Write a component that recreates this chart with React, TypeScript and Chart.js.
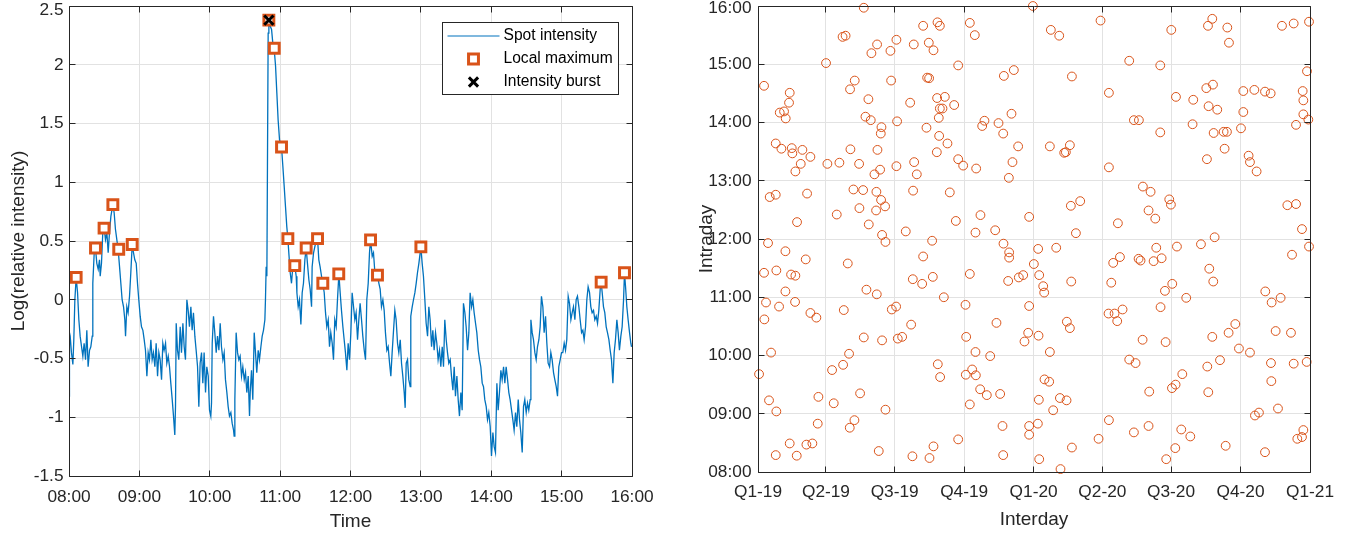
import React, { useEffect, useRef } from 'react';
import { Chart, registerables } from 'chart.js';

Chart.register(...registerables);

const FONT = "'Liberation Sans', Arial, Helvetica, sans-serif";
const AXIS = '#262626';
const GRID = '#e2e2e2';
const BLUE = '#0072BD';
const ORANGE = '#D95319';

const spotTime = [
  0, 0.4, 1.0, 2.1, 3.3, 4.1, 5.0, 6.1, 7.3, 8.4, 9.5, 10.7, 11.8, 12.9, 14.1, 15.2, 16.3, 17.5, 18.6, 19.8,
  20.3, 21.5, 22.6, 23.7, 24.9, 26.0, 26.6, 27.7, 28.8, 30.0, 31.1, 32.3, 33.4, 34.5, 35.7, 37.4, 38.5, 39.6, 40.8, 41.9,
  43.1, 44.2, 45.3, 46.5, 47.6, 48.2, 49.3, 50.4, 51.6, 52.7, 53.9, 55.0, 56.1, 57.3, 58.4, 59.5, 60.7, 61.8, 63.0, 64.1,
  65.2, 66.4, 67.5, 68.6, 69.8, 70.9, 72.0, 73.2, 74.3, 75.5, 76.6, 77.7, 78.9, 80.0, 81.1, 82.3, 83.4, 84.6, 85.7, 86.8,
  88.0, 89.1, 90.2, 90.8, 91.4, 92.5, 93.6, 94.8, 95.9, 97.1, 98.2, 99.3, 100.5, 101.6, 102.7, 103.9, 105.0, 106.1, 107.3, 108.4,
  109.6, 110.7, 111.8, 113.0, 114.1, 115.2, 116.4, 117.5, 118.7, 119.8, 120.9, 121.5,
  122.1, 123.2, 124.3, 125.5, 126.6, 127.8, 128.9, 130.0, 131.2, 132.3, 133.4, 134.6, 135.7, 136.8, 138.0, 139.1, 140.3, 140.8,
  141.4, 142.5, 143.7, 144.8, 145.9, 147.1, 148.2, 149.4, 150.5, 151.6, 152.8, 153.9, 154.5, 155.6, 156.7, 157.9, 159.0, 160.1,
  161.3, 162.4, 163.6, 164.7, 165.8, 167.0, 167.5, 168.1, 168.7, 169.2, 169.8, 170.4, 171.5, 172.7, 173.8, 174.9, 176.1, 177.2,
  178.3, 179.5, 181.2, 182.3, 183.5, 184.6, 185.7, 186.6, 187.4, 188.6, 189.7, 190.8, 192.0, 192.5, 193.7, 194.3, 195.4, 196.5,
  197.7, 198.8, 199.9, 201.1, 202.2, 203.3, 204.5, 205.6, 206.8, 207.3, 208.5, 210.2, 211.9, 213.0, 214.1, 215.3, 216.4, 217.6,
  218.7, 219.8, 221.0, 222.1, 223.2, 224.4, 225.5, 226.6, 227.8, 228.9, 230.1, 231.2, 232.3, 233.5, 234.6, 235.7, 236.9, 238.0,
  239.2, 240.3,
  241.4, 242.6, 243.7, 244.8, 246.0, 247.1, 248.2, 249.4, 250.5, 251.7, 252.8, 253.9, 255.1, 256.2, 257.1, 258.5, 259.6, 260.8,
  261.9, 263.0, 264.2, 265.3, 266.4, 267.6, 268.7, 269.8, 271.0, 272.1, 273.3, 274.4, 275.5, 276.7, 277.8, 278.9, 280.1, 281.2,
  282.4, 283.5, 284.6, 285.8, 286.6, 287.5, 288.6, 289.7, 290.9, 291.4, 292.6, 293.7, 294.9, 296.0, 297.1, 298.3, 300.0, 301.1,
  302.2, 303.4, 304.5, 305.7, 306.8, 307.9, 309.1, 310.2, 311.3, 312.5, 313.6, 314.7, 315.9, 317.0, 318.2, 319.3, 320.4, 321.6,
  322.7, 323.8, 325.0, 326.1, 327.3, 328.4, 329.5, 330.7, 331.8, 332.9, 334.1, 335.2, 336.3, 337.5, 338.6, 339.8, 340.9, 342.0,
  343.2, 344.3, 345.4, 346.6, 347.7, 348.9, 350.0, 351.1, 352.3, 353.4, 354.5, 355.7, 356.8, 357.9, 359.1, 360.2,
  361.4, 362.5, 363.6, 364.8, 365.9, 367.0, 368.2, 369.3, 370.5, 371.6, 372.7, 373.9, 375.0, 376.1, 377.3, 378.4, 379.5, 380.7,
  381.8, 383.0, 384.1, 385.2, 386.4, 387.5, 388.6, 389.8, 390.9, 392.0, 393.2, 393.8, 394.9, 396.0, 397.2, 398.3, 399.4, 400.6,
  401.7, 402.8, 404.0, 405.1, 406.3, 407.4, 408.5, 409.7, 410.8, 411.9, 413.1, 414.2, 415.4, 416.5, 417.6, 418.8, 419.9, 421.0,
  422.2, 423.3, 424.4, 425.6, 426.7, 427.9, 429.0, 430.1, 431.3, 432.4, 433.5, 434.7, 435.8, 437.0, 438.1, 439.2, 440.4, 441.5,
  442.6, 443.8, 444.9, 446.0, 447.2, 448.3, 449.5, 450.6, 451.7, 452.9, 453.7, 454.6, 455.7, 456.8, 458.0, 459.1, 460.3, 461.4,
  462.5, 463.7, 464.8, 465.9, 467.1, 468.2, 469.3, 470.5, 471.6, 472.8, 473.6, 474.5, 475.6, 476.7, 477.9, 479.0, 479.6,
];
const spotValue = [
  -0.82, -0.28, -0.31, -0.45, -0.55, -0.34, 0.0, 0.19, 0.06, -0.17, -0.31, -0.4, -0.48, -0.37, -0.51, -0.26, -0.57, -0.43, -0.4, -0.31,
  0.14, 0.4, 0.44, 0.31, 0.26, 0.34, 0.2, 0.31, 0.57, 0.61, 0.51, 0.57, 0.4, 0.57, 0.71, 0.81, 0.74, 0.6, 0.51, 0.43,
  0.28, 0.14, 0.0, -0.06, -0.17, -0.31, -0.06, -0.11, 0.03, 0.23, 0.47, 0.4, 0.34, 0.31, 0.14, 0.0, -0.14, -0.23, -0.26, -0.34,
  -0.43, -0.65, -0.45, -0.51, -0.34, -0.51, -0.45, -0.57, -0.37, -0.65, -0.45, -0.51, -0.68, -0.37, -0.43, -0.37, -0.54, -0.48, -0.57, -0.71,
  -0.85, -0.99, -1.15, -0.91, -0.2, -0.43, -0.51, -0.23, -0.45, -0.2, -0.4, -0.51, 0.0, -0.09, -0.23, -0.06, -0.26, -0.11, -0.31, -0.43,
  -0.57, -0.91, -0.54, -0.45, -0.71, -0.45, -0.79, -0.57, -0.65, -0.94, -0.99, -0.88,
  -0.37, -0.14, -0.28, -0.45, -0.31, -0.43, -0.2, -0.4, -0.51, -0.45, -0.68, -0.79, -0.91, -0.99, -0.96, -1.05, -1.11, -1.16,
  -0.85, -0.28, -0.45, -0.51, -0.48, -0.65, -0.57, -0.68, -0.62, -0.79, -0.65, -0.99, -0.79, -0.6, -0.85, -0.28, -0.45, -0.62,
  -0.43, -0.51, -0.4, -0.31, -0.26, -0.17, 0.0, 0.28, 0.2, 1.14, 2.27, 2.38, 2.33, 2.3, 2.18, 2.14, 1.99, 1.76,
  1.53, 1.36, 1.3, 1.14, 0.96, 0.79, 0.62, 0.52, 0.4, 0.23, 0.14, 0.28, 0.26, 0.29, 0.2, 0.06, -0.06, 0.0,
  -0.21, 0.06, 0.14, 0.34, 0.44, 0.31, 0.17, 0.09, -0.06, 0.28, 0.4, 0.48, 0.52, 0.34, 0.28, 0.2, 0.14, 0.06,
  -0.11, -0.23, -0.17, -0.4, -0.28, -0.37, -0.51, -0.17, -0.23, 0.0, 0.22, 0.06, -0.09, -0.23, -0.34, -0.45, -0.6, -0.37,
  -0.51, -0.28,
  0.06, -0.06, -0.17, -0.11, -0.34, -0.17, -0.03, -0.17, -0.31, -0.43, -0.51, 0.0, 0.14, 0.4, 0.51, 0.37, 0.4, 0.23,
  0.2, 0.21, 0.14, 0.09, -0.06, 0.0, -0.09, -0.28, -0.43, -0.4, -0.54, -0.65, -0.45, -0.26, -0.09, -0.17, -0.37, -0.45,
  -0.34, -0.54, -0.65, -0.79, -0.92, -0.54, -0.51, -0.68, -0.74, -0.14, -0.06, 0.0, 0.06, 0.14, 0.23, 0.31, 0.45, 0.31,
  0.2, 0.0, -0.2, -0.31, -0.06, -0.17, -0.4, -0.26, -0.43, -0.28, -0.37, -0.51, -0.43, -0.57, -0.4, -0.57, -0.17, -0.34,
  -0.45, -0.54, -0.51, -0.65, -0.77, -0.57, -0.82, -0.65, -0.85, -0.99, -0.79, -0.94, -0.03, -0.11, -0.23, -0.43, -0.28, 0.06,
  -0.06, 0.0, -0.11, -0.2, -0.28, -0.43, -0.51, -0.57, -0.71, -0.74, -0.85, -0.91, -1.02, -0.96, -1.08, -1.33,
  -1.13, -1.25, -1.3, -0.71, -0.94, -0.79, -0.6, -0.68, -0.57, -0.71, -0.57, -0.68, -0.79, -0.85, -0.94, -1.02, -1.11, -0.96,
  -1.08, -0.85, -1.02, -1.13, -1.3, -0.91, -0.85, -0.96, -0.88, -0.94, -0.85, -0.17, -0.28, -0.34, -0.45, -0.51, -0.4, -0.34,
  -0.23, 0.03, -0.06, -0.28, -0.14, -0.37, -0.54, -0.57, -0.45, -0.51, -0.62, -0.68, -0.74, -0.82, -0.57, -0.51, -0.45, -0.45,
  -0.37, -0.43, -0.34, 0.03, -0.03, -0.17, -0.11, -0.06, -0.17, 0.0, 0.03, -0.06, -0.17, -0.28, -0.26, -0.34, -0.23, 0.0,
  0.11, 0.06, -0.06, -0.11, -0.09, -0.17, -0.14, -0.2, -0.09, 0.09, 0.15, 0.06, -0.06, -0.11, -0.23, -0.28, -0.34, -0.43,
  -0.51, -0.71, -0.45, -0.34, -0.17, -0.28, -0.43, -0.31, -0.23, 0.0, 0.23, 0.11, -0.06, -0.17, -0.28, -0.37, -0.4,
];

const maxTime = [6.1, 22.6, 29.9, 37.4, 42.4, 53.9, 170.4, 175.0, 181.2, 186.6, 192.5, 202.2, 211.9, 216.4, 230.0, 257.1, 263.0, 300.0, 453.7, 473.6];
const maxValue = [0.19, 0.44, 0.61, 0.81, 0.43, 0.47, 2.38, 2.14, 1.3, 0.52, 0.29, 0.44, 0.52, 0.14, 0.22, 0.51, 0.21, 0.45, 0.15, 0.23];
const burstTime = [170.4];
const burstValue = [2.38];

const timeTicks = [0, 60, 120, 180, 240, 300, 360, 420, 480];
const timeTickLabels = ['08:00', '09:00', '10:00', '11:00', '12:00', '13:00', '14:00', '15:00', '16:00'];
const logTicks = [-1.5, -1, -0.5, 0, 0.5, 1, 1.5, 2, 2.5];
const logTickLabels = ['-1.5', '-1', '-0.5', '0', '0.5', '1', '1.5', '2', '2.5'];

const interday = [
  8.0, 15.5, 23.5, 13.3, 23.5, 31.0, 28.8, 34.5, 36.7, 42.0, 41.1, 44.7, 45.5, 58.8, 69.4, 56.6, 49.5, 65.0, 51.7, 36.3,
  63.2, 90.1, 91.9, 104.3, 107.8, 112, 116, 121.9, 128.1, 122.4, 133.9, 126.4, 139.2, 134.3, 146.7, 118.9, 140.1, 150.2, 157.7, 146.2,
  142.3, 149.3, 163.5, 162.6, 158.2, 161.7, 154.2, 156.8, 163.0, 168.3, 156.4, 164.3, 168.8, 175.4, 183.3, 176.3, 184.2, 183.3, 195.7, 206.3,
  218.7, 226.2, 232.4, 237.7, 240.8, 201.5, 224.0, 226.6, 223.1, 237.2, 239.4, 240.8, 244.3, 247.4, 259.8, 239.9, 250.9, 236.8, 206.8, 210.3,
  205.4, 254.0, 265.1, 271.7, 262.0, 230.6, 218.7, 265.1, 280.5, 287.1, 288.9, 296.9, 299.9, 294.6, 288.0, 314.1, 318.5, 325.6, 324.7, 332.2,
  325.1, 332.6, 332.6,
  364.0, 387.8, 398.9, 453.6, 547.3, 595.9, 601.6, 621.5, 623.7, 693.9, 709.4, 729.7, 338.8, 415.7, 491.6, 532.7, 464.7, 553.5, 576.4, 593.7,
  602.5, 596.7, 608.2, 642.7, 657.3, 671.4, 678.9, 727.0, 721.3, 722.2, 722.2, 728.8, 712.5, 642.7, 639.6, 575.5, 532.7, 497.8, 504.4, 603.4,
  616.6, 621.0, 617.9, 594.5, 649.7, 651.5, 660.3, 335.7, 344.5, 337.0, 386.5, 405.5, 407.7, 413.0, 464.7, 509.7, 519.9, 544.6, 546.8, 517.2,
  526.1, 359.1, 414.3, 426.7, 421.0, 476.6, 701.0, 712.5, 720.4, 729.7, 707.2, 604.7, 586.6, 554.8, 527.4, 534.5, 523.9, 504.0, 506.6, 479.3,
  470.4, 394.9, 371.0, 365.3, 597.6,
  8.0, 24.3, 43.8, 49.5, 36.3, 10.6, 27.9, 49.1, 8.4, 69.4, 77.3, 17.3, 1.4, 14.6, 24.3, 23.5, 42.0, 51.3, 64.1, 72.0,
  80.0, 79.1, 98.1, 112.7, 120.6, 100.3, 113.6, 143.6, 157.3, 140.1, 164.3, 135.2, 127.7, 121.5, 168.8, 159.9, 177.2, 182.9, 185.1, 190.9,
  202.8, 205.0, 217.4, 231.5, 246.1, 238.1, 241.2, 204.5, 227.1, 232.4, 265.1, 274.8, 280.5, 275.7, 288.0, 275.2, 283.6, 288.5, 294.2, 303.0,
  307.5, 280.5, 315.8, 320.7, 331.3, 345.4, 351.2, 323.8, 324.7,
  372.4, 377.7, 379.0, 414.8, 359.1, 357.8, 352.9, 371.5, 386.5, 409.0, 413.0, 379.4, 385.6, 371.9, 399.8, 408.6, 390.9, 359.1, 359.1, 370.6,
  372.4, 400.6, 415.7, 467.8, 464.2, 472.2, 475.7, 482.8, 509.3, 491.6, 500.0, 518.1, 464.7, 451.0, 497.8, 517.2, 533.1, 538.9, 548.6, 567.1,
  539.8, 548.2, 553.0, 561.9, 540.6, 552.6, 560.5, 572.5, 602.9, 601.6, 623.2, 632.1, 595.0, 611.8, 596.3, 619.3, 636.9, 651.5, 671.8, 680.2,
  692.1, 685.5, 705.8, 679.3, 709.4, 726.6, 679.8, 658.1, 663.4, 688.6, 671.4, 722.2, 714.2, 720.4,
];
const intraday = [
  14.63, 12.72, 12.76, 11.93, 13.64, 13.55, 14.17, 14.19, 14.07, 14.51, 14.34, 13.56, 13.47, 13.53, 13.41, 13.29, 13.16, 12.78, 12.29, 11.79,
  11.65, 15.02, 13.29, 12.42, 13.31, 15.47, 15.49, 14.57, 14.72, 13.54, 13.29, 12.85, 12.84, 12.53, 12.25, 11.58, 15.97, 15.19, 15.34, 14.4,
  14.1, 14.04, 13.92, 13.81, 13.53, 13.19, 13.11, 12.81, 12.67, 12.56, 12.49, 12.07, 11.95, 15.23, 15.42, 14.72, 14.02, 13.25, 12.13, 15.34,
  15.66, 15.37, 15.24, 15.72, 15.66, 14.34, 14.77, 14.76, 13.91, 14.42, 14.08, 14.24, 14.24, 14.44, 14.3, 13.77, 13.64, 13.49, 13.32, 13.11,
  12.83, 12.8, 13.37, 13.26, 12.31, 11.97, 11.7, 14.98, 15.71, 15.5, 13.21, 13.94, 14.03, 12.41, 12.11, 12.15, 13.99, 14.8, 13.81, 13.05,
  11.92, 11.77, 11.68,
  16.0, 15.59, 15.49, 15.75, 15.59, 15.66, 15.78, 15.63, 15.37, 15.66, 15.7, 15.73, 14.9, 14.79, 15.06, 14.98, 14.51, 14.44, 14.39, 14.59,
  14.65, 14.28, 14.22, 14.54, 14.56, 14.53, 14.5, 14.88, 14.54, 14.38, 14.14, 14.05, 13.96, 14.18, 13.9, 13.97, 13.83, 14.04, 14.04, 13.82,
  13.84, 13.84, 13.55, 13.37, 13.43, 13.32, 13.16, 14.15, 13.59, 13.32, 13.59, 13.48, 13.49, 13.61, 13.23, 12.9, 12.81, 12.68, 12.59, 12.49,
  12.35, 12.38, 12.57, 12.65, 12.1, 12.27, 12.58, 12.6, 12.17, 11.87, 11.73, 12.03, 11.91, 11.87, 11.85, 11.67, 11.62, 11.66, 11.63, 11.69,
  11.59, 11.85, 11.83, 11.57, 11.49,
  11.42, 11.46, 11.39, 11.37, 11.1, 10.91, 10.84, 10.92, 10.62, 10.73, 10.65, 10.05, 9.68, 9.23, 9.04, 8.29, 8.49, 8.28, 8.47, 8.49,
  9.29, 8.83, 9.75, 9.84, 10.03, 9.18, 10.78, 11.13, 11.05, 10.31, 10.26, 9.35, 8.89, 8.76, 9.07, 8.36, 10.79, 10.84, 10.29, 10.32,
  10.53, 11.31, 11.23, 11.35, 11.0, 9.85, 9.63, 8.27, 8.24, 8.44, 8.56, 10.87, 11.4, 10.32, 10.06, 9.67, 9.76, 9.66, 9.42, 9.32,
  9.99, 9.16, 10.56, 9.34, 11.28, 11.34, 11.38, 8.79, 8.29,
  11.38, 11.19, 11.08, 11.27, 10.85, 10.39, 10.24, 10.34, 10.06, 10.58, 10.47, 9.59, 9.55, 9.24, 9.27, 9.23, 9.06, 8.79, 8.64, 8.83,
  8.22, 8.05, 8.42, 11.25, 10.72, 10.72, 10.59, 10.79, 10.27, 9.93, 9.87, 9.38, 8.89, 8.57, 8.68, 8.79, 10.83, 11.11, 11.23, 10.99,
  10.23, 9.44, 9.5, 9.68, 8.22, 8.41, 8.73, 8.61, 11.27, 10.32, 10.39, 10.54, 9.81, 9.92, 9.37, 8.45, 10.12, 10.05, 11.1, 10.91,
  10.99, 10.42, 10.39, 9.87, 9.86, 9.89, 9.56, 8.97, 9.02, 9.09, 8.34, 8.72, 8.57, 8.6,
];

const quarterTicks = [0, 90, 181, 273, 365, 456, 547, 639, 731];
const quarterLabels = ['Q1-19', 'Q2-19', 'Q3-19', 'Q4-19', 'Q1-20', 'Q2-20', 'Q3-20', 'Q4-20', 'Q1-21'];
const hourTicks = [8, 9, 10, 11, 12, 13, 14, 15, 16];
const hourLabels = ['08:00', '09:00', '10:00', '11:00', '12:00', '13:00', '14:00', '15:00', '16:00'];

const TICK_FONT = { family: FONT, size: 17.3 };
const TITLE_FONT = { family: FONT, size: 19 };
const TICK_LEN = 6;

const framePlugin = {
  id: 'matFrame',
  beforeDraw(chart: any) {
    // keep the topmost y tick label inside the figure, as the reference does
    const ys = chart.scales.y;
    const shift = chart.options.topLabelShift || 0;
    try {
      const items = ys.getLabelItems();
      let topIdx = -1;
      let topY = Infinity;
      items.forEach((it: any, i: number) => {
        if (it.options.translation[1] < topY) {
          topY = it.options.translation[1];
          topIdx = i;
        }
      });
      if (topIdx >= 0 && !items[topIdx]._shifted) {
        const tr = items[topIdx].options.translation;
        items[topIdx].options.translation = [tr[0], tr[1] + shift];
        items[topIdx]._shifted = true;
      }
    } catch (e) {
      /* ignore */
    }
  },
  afterDatasetsDraw(chart: any) {
    const { ctx, chartArea: a, scales } = chart;
    const L = Math.floor(a.left) + 0.5;
    const R = Math.floor(a.right) + 0.5;
    const T = Math.floor(a.top) + 0.5;
    const B = Math.floor(a.bottom) + 0.5;
    ctx.save();
    ctx.strokeStyle = AXIS;
    ctx.lineWidth = 1;
    ctx.beginPath();
    ctx.rect(L, T, R - L, B - T);
    const xs = scales.x;
    const ys = scales.y;
    xs.ticks.forEach((t: any) => {
      const px = Math.floor(xs.getPixelForValue(t.value)) + 0.5;
      ctx.moveTo(px, B);
      ctx.lineTo(px, B - TICK_LEN);
      ctx.moveTo(px, T);
      ctx.lineTo(px, T + TICK_LEN);
    });
    ys.ticks.forEach((t: any) => {
      const py = Math.floor(ys.getPixelForValue(t.value)) + 0.5;
      ctx.moveTo(L, py);
      ctx.lineTo(L + TICK_LEN, py);
      ctx.moveTo(R, py);
      ctx.lineTo(R - TICK_LEN, py);
    });
    ctx.stroke();
    ctx.restore();
  },
};

const MARKER_R = 7;

function drawSquare(ctx: CanvasRenderingContext2D, x: number, y: number) {
  const s = Math.SQRT1_2 * MARKER_R;
  ctx.save();
  ctx.fillStyle = '#ffffff';
  ctx.strokeStyle = ORANGE;
  ctx.lineWidth = 3;
  ctx.beginPath();
  ctx.rect(x - s, y - s, 2 * s, 2 * s);
  ctx.fill();
  ctx.stroke();
  ctx.restore();
}
function drawCross(ctx: CanvasRenderingContext2D, x: number, y: number) {
  const s = Math.SQRT1_2 * 6.5;
  ctx.save();
  ctx.strokeStyle = '#000000';
  ctx.lineWidth = 3;
  ctx.beginPath();
  ctx.moveTo(x - s, y - s);
  ctx.lineTo(x + s, y + s);
  ctx.moveTo(x - s, y + s);
  ctx.lineTo(x + s, y - s);
  ctx.stroke();
  ctx.restore();
}

const legendPlugin = {
  id: 'matLegend',
  afterDraw(chart: any) {
    const { ctx } = chart;
    const w = 176;
    const h = 72;
    const x0 = 442.5;
    const y0 = 22.5;
    ctx.save();
    ctx.fillStyle = '#ffffff';
    ctx.fillRect(x0, y0, w, h);
    ctx.strokeStyle = AXIS;
    ctx.lineWidth = 1;
    ctx.strokeRect(x0, y0, w, h);
    const labels = chart.data.datasets.map((d: any) => d.label);
    const rows = [13.5, 36.5, 59.5];
    ctx.font = `15.6px ${FONT}`;
    ctx.textBaseline = 'middle';
    ctx.textAlign = 'left';
    ctx.strokeStyle = BLUE;
    ctx.lineWidth = 1.2;
    ctx.beginPath();
    ctx.moveTo(x0 + 5, y0 + rows[0]);
    ctx.lineTo(x0 + 57, y0 + rows[0]);
    ctx.stroke();
    drawSquare(ctx, x0 + 31, y0 + rows[1]);
    drawCross(ctx, x0 + 31, y0 + rows[2]);
    ctx.fillStyle = '#000000';
    ctx.fillText(labels[2], x0 + 61, y0 + rows[0]);
    ctx.fillText(labels[1], x0 + 61, y0 + rows[1]);
    ctx.fillText(labels[0], x0 + 61, y0 + rows[2]);
    ctx.restore();
  },
};

function fixedX(height: number) {
  return (s: any) => {
    s.height = height;
    s.paddingLeft = 0;
    s.paddingRight = 0;
    s.paddingTop = 0;
    s.paddingBottom = 0;
  };
}
function fixedY(width: number) {
  return (s: any) => {
    s.width = width;
    s.paddingLeft = 0;
    s.paddingRight = 0;
    s.paddingTop = 0;
    s.paddingBottom = 0;
  };
}

export default function App() {
  const leftRef = useRef<HTMLCanvasElement>(null);
  const rightRef = useRef<HTMLCanvasElement>(null);

  useEffect(() => {
    Chart.defaults.font.family = FONT;
    Chart.defaults.color = AXIS;

    const spotData = spotTime.map((t, i) => ({ x: t, y: spotValue[i] }));
    const maxData = maxTime.map((t, i) => ({ x: t, y: maxValue[i] }));
    const burstData = burstTime.map((t, i) => ({ x: t, y: burstValue[i] }));

    const left = new Chart(leftRef.current as HTMLCanvasElement, {
      type: 'scatter',
      data: {
        datasets: [
          {
            label: 'Intensity burst',
            data: burstData,
            pointStyle: 'crossRot',
            pointRadius: 6.5,
            pointBorderWidth: 3,
            pointBorderColor: '#000000',
            pointBackgroundColor: '#000000',
            showLine: false,
            clip: false,
            order: 0,
          } as any,
          {
            label: 'Local maximum',
            data: maxData,
            pointStyle: 'rect',
            pointRadius: MARKER_R,
            pointBorderWidth: 3,
            pointBorderColor: ORANGE,
            pointBackgroundColor: '#ffffff',
            showLine: false,
            clip: false,
            order: 1,
          } as any,
          {
            label: 'Spot intensity',
            data: spotData,
            showLine: true,
            borderColor: BLUE,
            borderWidth: 1.3,
            pointRadius: 0,
            pointHitRadius: 0,
            order: 2,
          } as any,
        ],
      },
      options: {
        animation: false,
        responsive: false,
        devicePixelRatio: 1,
        events: [],
        topLabelShift: 4.5,
        layout: { autoPadding: false, padding: { left: 0, top: 6, right: 45, bottom: 0 } },
        plugins: { legend: { display: false }, tooltip: { enabled: false } },
        scales: {
          x: {
            type: 'linear',
            min: 0,
            max: 480,
            afterBuildTicks: (s: any) => {
              s.ticks = timeTicks.map((v) => ({ value: v }));
            },
            afterFit: fixedX(59),
            ticks: {
              autoSkip: false,
              maxRotation: 0,
              padding: 11,
              font: TICK_FONT,
              color: AXIS,
              callback: (_v: any, i: number) => timeTickLabels[i],
            },
            grid: { color: GRID, drawTicks: false, lineWidth: 1 },
            border: { display: false },
            title: { display: true, text: 'Time', font: TITLE_FONT, color: AXIS, padding: { top: 0, bottom: 2 } },
          },
          y: {
            type: 'linear',
            min: -1.5,
            max: 2.5,
            afterBuildTicks: (s: any) => {
              s.ticks = logTicks.map((v) => ({ value: v }));
            },
            afterFit: fixedY(69),
            ticks: {
              autoSkip: false,
              padding: 5.5,
              font: TICK_FONT,
              color: AXIS,
              callback: (_v: any, i: number) => logTickLabels[i],
            },
            grid: { color: GRID, drawTicks: false, lineWidth: 1 },
            border: { display: false },
            title: {
              display: true,
              text: 'Log(relative intensity)',
              font: TITLE_FONT,
              color: AXIS,
              padding: { top: 7, bottom: 0 },
            },
          },
        },
      } as any,
      plugins: [framePlugin, legendPlugin],
    });

    const scatterData = interday.map((d, i) => ({ x: d, y: intraday[i] }));

    const right = new Chart(rightRef.current as HTMLCanvasElement, {
      type: 'scatter',
      data: {
        datasets: [
          {
            label: 'Observations',
            data: scatterData,
            pointStyle: 'circle',
            pointRadius: 4.4,
            pointBorderWidth: 1,
            pointBorderColor: ORANGE,
            pointBackgroundColor: 'rgba(0,0,0,0)',
            clip: false,
          } as any,
        ],
      },
      options: {
        animation: false,
        responsive: false,
        devicePixelRatio: 1,
        events: [],
        topLabelShift: 2.5,
        layout: { autoPadding: false, padding: { left: 0, top: 6, right: 44, bottom: 0 } },
        plugins: { legend: { display: false }, tooltip: { enabled: false } },
        scales: {
          x: {
            type: 'linear',
            min: 0,
            max: 731,
            afterBuildTicks: (s: any) => {
              s.ticks = quarterTicks.map((v) => ({ value: v }));
            },
            afterFit: fixedX(63),
            ticks: {
              autoSkip: false,
              maxRotation: 0,
              padding: 10,
              font: TICK_FONT,
              color: AXIS,
              callback: (_v: any, i: number) => quarterLabels[i],
            },
            grid: { color: GRID, drawTicks: false, lineWidth: 1 },
            border: { display: false },
            title: { display: true, text: 'Interday', font: TITLE_FONT, color: AXIS, padding: { top: 0, bottom: 4 } },
          },
          y: {
            type: 'linear',
            min: 8,
            max: 16,
            afterBuildTicks: (s: any) => {
              s.ticks = hourTicks.map((v) => ({ value: v }));
            },
            afterFit: fixedY(81),
            ticks: {
              autoSkip: false,
              padding: 6.5,
              font: TICK_FONT,
              color: AXIS,
              callback: (_v: any, i: number) => hourLabels[i],
            },
            grid: { color: GRID, drawTicks: false, lineWidth: 1 },
            border: { display: false },
            title: {
              display: true,
              text: 'Intraday',
              font: TITLE_FONT,
              color: AXIS,
              padding: { top: 18.5, bottom: 0 },
            },
          },
        },
      } as any,
      plugins: [framePlugin],
    });

    return () => {
      left.destroy();
      right.destroy();
    };
  }, []);

  return (
    <div style={{ position: 'fixed', left: 0, top: 0, width: 1354, height: 535, background: '#ffffff' }}>
      <canvas
        ref={leftRef}
        width={677}
        height={535}
        style={{ position: 'absolute', left: 0, top: 0, width: 677, height: 535 }}
      />
      <canvas
        ref={rightRef}
        width={677}
        height={535}
        style={{ position: 'absolute', left: 677, top: 0, width: 677, height: 535 }}
      />
    </div>
  );
}
